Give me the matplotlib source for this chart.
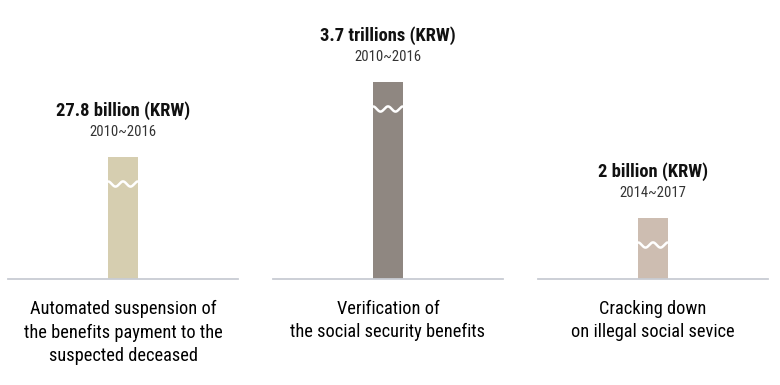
import matplotlib
matplotlib.use("Agg")
import matplotlib.pyplot as plt
import numpy as np

categories = [
    "Automated suspension of\nthe benefits payment to the\nsuspected deceased",
    "Verification of\nthe social security benefits",
    "Cracking down\non illegal social sevice",
]
amount_labels = ["27.8 billion (KRW)", "3.7 trillions (KRW)", "2 billion (KRW)"]
periods = ["2010~2016", "2010~2016", "2014~2017"]
# displayed heights of the broken (wavy) bars, in pixels of the reference
bar_heights = [122, 197, 61]
colors = ["#d6ceb0", "#8f8781", "#cdbdb1"]

FONT = ["Roboto Condensed", "Roboto", "DejaVu Sans"]
plt.rcParams["font.family"] = FONT

W, H = 780, 385
fig = plt.figure(figsize=(W / 100, H / 100), dpi=100)
fig.patch.set_facecolor("white")

panel_left = [8, 273, 538]
panel_w = 230
base_y = 279
top_y = 10

for i in range(3):
    ax = fig.add_axes([panel_left[i] / W, (H - base_y) / H,
                       panel_w / W, (base_y - top_y) / H])
    ax.set_xlim(-panel_w / 2, panel_w / 2)
    ax.set_ylim(0, base_y - top_y)
    ax.axis("off")
    h = bar_heights[i]
    ax.bar([0], [h], width=30, color=colors[i], align="center", zorder=2)
    ax.axhline(0, color="#c8ccd3", lw=1.3, zorder=3, clip_on=False)
    # wavy break
    xw = np.linspace(-15, 15, 200)
    yw = h - 27 + 2.6 * np.cos(2 * np.pi * 2 * (xw + 15) / 30)
    ax.plot(xw, yw, color="white", lw=1.8, zorder=4, solid_capstyle="butt")
    ax.text(0, h + 46, amount_labels[i], ha="center", va="center",
            fontsize=13.3, fontweight="bold", color="#111111")
    ax.text(0, h + 25, periods[i], ha="center", va="center",
            fontsize=10.5, color="#333333")
    ax.text(0, -21, categories[i], ha="center", va="top",
            fontsize=13.2, fontweight="normal", color="#000000",
            linespacing=1.38, clip_on=False)

fig.savefig("out.png", dpi=100, facecolor="white")
